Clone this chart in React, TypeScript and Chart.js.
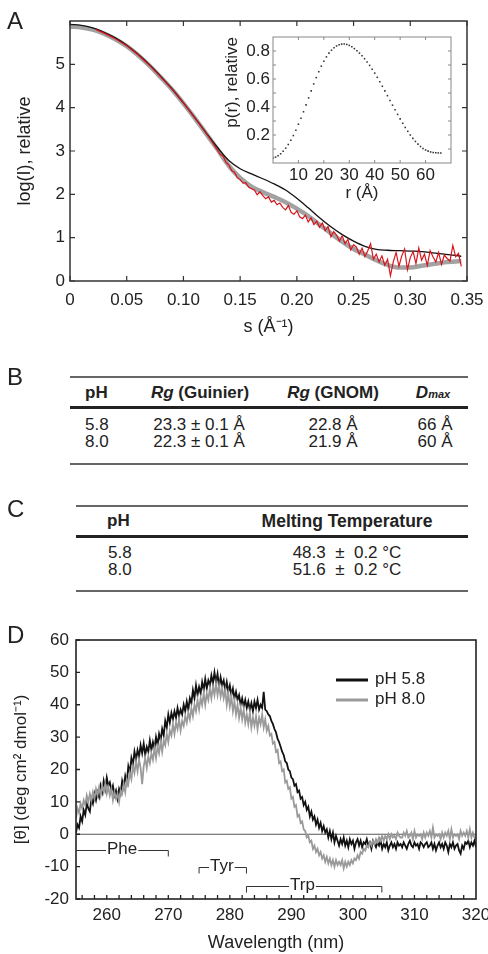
import React, { useEffect, useRef } from 'react';
import { Chart, registerables } from 'chart.js';

Chart.register(...registerables);

const FONT = "'Liberation Sans', Arial, Helvetica, sans-serif";
const INK = '#222';

// ---------------- Panel A : SAXS scattering curves ----------------
const sFit = [0, 0.01, 0.02, 0.03, 0.04, 0.05, 0.06, 0.07, 0.08, 0.09, 0.1, 0.11, 0.12, 0.13, 0.14, 0.15, 0.16, 0.17,
  0.18, 0.19, 0.2, 0.21, 0.22, 0.23, 0.24, 0.25, 0.26, 0.27, 0.28, 0.29, 0.3, 0.31, 0.32, 0.33, 0.34, 0.345];
const logIFitGray = [5.87, 5.85, 5.8, 5.71, 5.58, 5.42, 5.21, 4.97, 4.7, 4.42, 4.1, 3.76, 3.4, 3.04, 2.66, 2.38, 2.18, 2.05,
  1.94, 1.82, 1.67, 1.5, 1.3, 1.1, 0.91, 0.74, 0.61, 0.48, 0.37, 0.31, 0.31, 0.35, 0.39, 0.43, 0.45, 0.46];
const logIFitBlack = [5.92, 5.9, 5.84, 5.74, 5.61, 5.44, 5.23, 4.99, 4.72, 4.43, 4.11, 3.77, 3.42, 3.08, 2.78, 2.59, 2.47, 2.36,
  2.24, 2.1, 1.91, 1.69, 1.46, 1.25, 1.07, 0.92, 0.8, 0.73, 0.71, 0.7, 0.69, 0.68, 0.65, 0.62, 0.59, 0.57];
const sDataSmooth = [0.023, 0.03, 0.04, 0.05, 0.06, 0.07, 0.08, 0.09, 0.1, 0.11, 0.12, 0.125];
const logIDataSmooth = [5.8, 5.72, 5.59, 5.43, 5.22, 4.98, 4.71, 4.43, 4.11, 3.77, 3.41, 3.22];
const sDataNoisyStart = 0.13;
const sDataNoisyStep = 0.0025;
const logIDataNoisy = [
  3.02, 2.92, 2.88, 2.74, 2.68, 2.55, 2.51, 2.38, 2.34, 2.26, 2.27, 2.16, 2.13, 2.1, 1.99, 2.06,
  1.97, 1.9, 1.94, 1.82, 1.86, 1.76, 1.8, 1.7, 1.64, 1.74, 1.58, 1.54, 1.62, 1.48, 1.44, 1.52,
  1.36, 1.46, 1.3, 1.38, 1.24, 1.34, 1.16, 1.26, 1.02, 1.14, 1.06, 0.92, 1.04, 0.86, 0.96, 0.72,
  0.84, 0.78, 0.62, 0.76, 0.56, 0.7, 0.86, 0.5, 0.62, 0.44, 0.58, 0.36, 0.5, 0.12, 0.44, 0.66,
  0.34, 0.58, 0.74, 0.26, 0.54, 0.68, 0.4, 0.76, 0.48, 0.62, 0.36, 0.7, 0.56, 0.44, 0.66, 0.38,
  0.6, 0.52, 0.46, 0.82, 0.56, 0.64, 0.34];
const aXTicks = [0, 0.05, 0.1, 0.15, 0.2, 0.25, 0.3, 0.35];
const aYTicks = [0, 1, 2, 3, 4, 5];

// Inset : pair distance distribution
const rStart = 0;
const prValues = [0.035, 0.042, 0.052, 0.066, 0.084, 0.106, 0.132, 0.162, 0.196, 0.234, 0.277, 0.32, 0.366, 0.415, 0.465,
  0.515, 0.565, 0.61, 0.652, 0.692, 0.727, 0.758, 0.785, 0.806, 0.823, 0.836, 0.845, 0.849, 0.85, 0.847, 0.84, 0.83,
  0.817, 0.802, 0.785, 0.766, 0.745, 0.722, 0.697, 0.67, 0.642, 0.612, 0.58, 0.548, 0.515, 0.481, 0.447, 0.413, 0.38,
  0.347, 0.315, 0.284, 0.254, 0.226, 0.2, 0.176, 0.154, 0.135, 0.118, 0.104, 0.093, 0.085, 0.079, 0.075, 0.073, 0.072, 0.072];
const insetXTicks = [10, 20, 30, 40, 50, 60];
const insetYTicks = [0.2, 0.4, 0.6, 0.8];
const insetYMinor = [0.1, 0.2, 0.3, 0.4, 0.5, 0.6, 0.7, 0.8];

// ---------------- Tables B and C ----------------
const phLevels = ['5.8', '8.0'];
const rgGuinier = [23.3, 22.3];
const rgGuinierErr = [0.1, 0.1];
const rgGnom = [22.8, 21.9];
const dmax = [66, 60];
const meltTemp = [48.3, 51.6];
const meltTempErr = [0.2, 0.2];

// ---------------- Panel D : near-UV CD (255–320 nm, 0.25 nm steps) ----------------
const wlStart = 255;
const wlStep = 0.25;
const cdPh58 = [
  0.5, 3.0, 2.0, 5.5, 4.0, 7.5, 6.0, 9.5, 8.0, 7.0, 11.0, 9.5, 12.5, 10.5, 13.0, 11.5,
  15.0, 13.0, 16.5, 14.0, 17.5, 15.0, 16.0, 13.5, 15.0, 12.0, 13.5, 11.0, 14.0, 12.5, 16.5, 14.5,
  18.0, 16.0, 21.0, 19.0, 23.5, 21.5, 25.5, 23.0, 26.0, 24.0, 27.5, 25.0, 28.0, 24.5, 27.0, 25.5,
  29.0, 26.0, 28.5, 26.5, 30.0, 27.5, 31.0, 29.0, 32.5, 30.5, 35.0, 33.0, 37.0, 34.5, 37.5, 35.5,
  38.0, 36.0, 39.0, 36.5, 38.5, 37.0, 40.0, 38.0, 41.0, 38.5, 42.0, 40.5, 44.5, 42.0, 46.0, 43.0,
  45.5, 43.5, 47.0, 44.5, 48.0, 45.0, 47.5, 46.0, 49.0, 46.5, 50.0, 47.0, 49.5, 45.5, 48.5, 46.0,
  47.5, 44.5, 47.0, 44.0, 46.0, 43.0, 45.0, 42.0, 44.0, 41.5, 43.0, 40.0, 42.0, 39.5, 41.5, 39.0,
  41.0, 38.5, 40.5, 38.0, 41.0, 39.0, 41.5, 38.5, 40.0, 39.0, 44.0, 38.5, 38.0, 37.0, 36.5, 35.0,
  34.0, 32.5, 31.5, 29.5, 28.5, 27.0, 25.5, 24.5, 22.5, 22.0, 20.0, 19.5, 17.5, 17.0, 15.0, 15.5,
  13.0, 13.5, 11.0, 11.5, 9.0, 10.0, 7.5, 8.5, 5.5, 7.0, 4.5, 5.5, 3.0, 4.5, 2.0, 3.5,
  1.0, 2.5, 0.5, 1.5, -1.0, 1.0, -1.5, 0.5, -2.5, -0.5, -2.0, -3.5, -1.5, -3.0, -1.0, -3.5,
  -2.0, -4.0, -1.5, -3.0, -2.0, -4.5, -2.5, -1.5, -3.5, -2.0, -4.0, -2.5, -3.0, -1.5, -3.5, -2.5,
  -4.5, -2.0, -3.0, -4.0, -2.5, -3.5, -2.0, -4.5, -3.0, -4.0, -2.5, -5.0, -3.5, -2.5, -4.0, -3.0,
  -4.5, -2.5, -3.5, -3.0, -4.0, -2.5, -3.5, -4.5, -3.0, -2.0, -3.5, -4.0, -2.5, -3.5, -3.0, -4.5,
  -2.5, -3.0, -4.0, -3.0, -2.5, -4.0, -3.5, -2.5, -4.5, -3.0, -5.0, -3.5, -2.5, -4.0, -3.0, -4.5,
  -2.5, -3.5, -5.5, -3.0, -4.0, -2.5, -4.5, -3.5, -3.0, -5.0, -6.0, -3.5, -4.5, -2.5, -3.0, -2.0,
  -4.0, -2.5, -3.5, -2.0, -4.0];
const cdPh80 = [
  5.0, 8.0, 6.5, 9.5, 8.0, 10.5, 9.0, 12.0, 10.0, 12.5, 10.5, 13.0, 11.0, 14.0, 12.0, 14.5,
  12.0, 15.0, 13.0, 15.5, 12.5, 14.5, 12.0, 14.0, 10.5, 13.0, 11.0, 12.5, 10.0, 13.5, 12.5, 15.5,
  13.0, 17.0, 15.5, 19.0, 17.0, 21.0, 19.0, 22.5, 19.5, 23.0, 20.5, 15.5, 21.0, 23.5, 20.5, 24.0,
  22.0, 25.0, 23.0, 26.5, 23.5, 27.0, 25.0, 28.5, 25.5, 29.0, 27.5, 31.0, 28.5, 32.0, 30.5, 34.0,
  31.0, 34.5, 32.5, 35.5, 32.0, 35.0, 33.5, 36.5, 34.5, 37.5, 35.5, 39.0, 36.5, 40.0, 38.0, 41.5,
  38.5, 42.0, 40.0, 43.5, 40.0, 43.5, 41.5, 45.0, 42.0, 45.5, 43.0, 46.5, 43.0, 46.0, 42.5, 45.0,
  42.0, 44.5, 40.0, 43.5, 39.5, 42.5, 38.0, 41.0, 37.0, 40.0, 36.0, 39.0, 35.5, 38.5, 34.5, 37.0,
  34.0, 37.5, 33.0, 36.0, 33.5, 36.5, 32.5, 36.0, 34.0, 37.0, 33.0, 35.5, 32.0, 33.5, 30.5, 31.0,
  28.0, 28.5, 25.5, 26.0, 22.0, 22.5, 19.5, 20.0, 16.0, 16.5, 14.0, 14.5, 11.0, 11.5, 8.5, 9.0,
  5.5, 6.0, 3.5, 4.0, 1.5, 1.0, -1.0, -0.5, -2.5, -2.0, -4.5, -3.5, -5.5, -4.5, -6.5, -5.5,
  -7.5, -6.5, -8.5, -7.0, -9.0, -7.5, -9.5, -8.0, -10.0, -8.0, -9.5, -8.5, -9.5, -8.0, -10.5, -8.5,
  -10.0, -8.5, -9.5, -8.0, -9.0, -7.5, -8.0, -6.5, -7.5, -5.5, -6.0, -4.5, -5.0, -3.5, -4.0, -2.5,
  -3.5, -2.0, -3.0, -1.5, -2.5, -1.0, -2.0, -0.5, -2.0, -0.5, -1.5, 0.0, -1.5, 0.0, -1.0, -0.5,
  -1.5, 0.5, -0.5, -1.0, -1.0, 0.5, -0.5, 1.0, -1.0, -0.5, 0.5, -1.5, 1.0, -1.0, 0.0, -0.5,
  0.0, -1.5, 0.5, -1.0, 0.5, -0.5, 1.0, -1.0, 2.0, -1.0, 0.0, -0.5, 0.0, -1.5, 0.5, -1.0,
  0.5, -0.5, 1.0, -1.5, 1.5, -1.0, 0.0, -0.5, 0.0, -1.5, 1.0, -0.5, 0.5, -0.5, 1.0, -1.0,
  1.5, -1.0, 0.5, -1.0, -1.5];
const dXTicks = [260, 270, 280, 290, 300, 310, 320];
const dXMinor = [256, 258, 260, 262, 264, 266, 268, 270, 272, 274, 276, 278, 280, 282, 284, 286, 288, 290, 292, 294,
  296, 298, 300, 302, 304, 306, 308, 310, 312, 314, 316, 318];
const dYTicks = [-20, -10, 0, 10, 20, 30, 40, 50, 60];
const bracketLabels = ['Phe', 'Tyr', 'Trp'];
const bracketFrom = [255, 275, 282.7];
const bracketTo = [270, 282.7, 304.7];
const bracketLevel = [-5, -10.2, -16];
const bracketTextAt = [262.5, 278.7, 291.8];
const bracketLeftTick = [false, true, true];

// ---------------- plugins ----------------
const frameTicksPlugin = {
  id: 'frameTicks',
  afterDatasetsDraw(chart: any, _a: any, o: any) {
    const { ctx, chartArea: a } = chart;
    const xs = chart.scales.x;
    const ys = chart.scales.y;
    ctx.save();
    ctx.strokeStyle = o.color;
    ctx.lineWidth = o.frameWidth;
    ctx.strokeRect(a.left, a.top, a.right - a.left, a.bottom - a.top);
    ctx.lineWidth = o.tickWidth;
    ctx.beginPath();
    const L = o.len;
    (o.bottom || []).forEach((v: number) => { const p = xs.getPixelForValue(v); ctx.moveTo(p, a.bottom); ctx.lineTo(p, a.bottom - L); });
    (o.top || []).forEach((v: number) => { const p = xs.getPixelForValue(v); ctx.moveTo(p, a.top); ctx.lineTo(p, a.top + L); });
    (o.left || []).forEach((v: number) => { const p = ys.getPixelForValue(v); ctx.moveTo(a.left, p); ctx.lineTo(a.left + L, p); });
    (o.right || []).forEach((v: number) => { const p = ys.getPixelForValue(v); ctx.moveTo(a.right, p); ctx.lineTo(a.right - L, p); });
    ctx.stroke();
    ctx.restore();
  },
};

const cdMarksPlugin = {
  id: 'cdMarks',
  beforeDatasetsDraw(chart: any) {
    const { ctx, chartArea: a } = chart;
    const y0 = chart.scales.y.getPixelForValue(0);
    ctx.save();
    ctx.strokeStyle = '#555';
    ctx.lineWidth = 1.2;
    ctx.beginPath();
    ctx.moveTo(a.left, y0);
    ctx.lineTo(a.right, y0);
    ctx.stroke();
    ctx.restore();
  },
  afterDatasetsDraw(chart: any) {
    const { ctx, chartArea: a } = chart;
    const xs = chart.scales.x;
    const ys = chart.scales.y;
    ctx.save();
    ctx.font = `17px ${FONT}`;
    ctx.fillStyle = INK;
    ctx.strokeStyle = '#333';
    ctx.lineWidth = 1;
    ctx.textBaseline = 'middle';
    ctx.textAlign = 'center';
    bracketLabels.forEach((lab, i) => {
      const x0 = xs.getPixelForValue(bracketFrom[i]);
      const x1 = xs.getPixelForValue(bracketTo[i]);
      const xc = xs.getPixelForValue(bracketTextAt[i]);
      const y = Math.round(ys.getPixelForValue(bracketLevel[i])) + 0.5;
      const w = ctx.measureText(lab).width;
      ctx.beginPath();
      ctx.moveTo(x0, y);
      ctx.lineTo(xc - w / 2 - 1, y);
      ctx.moveTo(xc + w / 2 + 1, y);
      ctx.lineTo(x1, y);
      ctx.moveTo(x1, y);
      ctx.lineTo(x1, y + 6);
      if (bracketLeftTick[i]) {
        ctx.moveTo(x0, y);
        ctx.lineTo(x0, y + 6);
      }
      ctx.stroke();
      ctx.fillText(lab, xc, y - 1);
    });
    // legend
    const rows = [40, 60];
    chart.data.datasets.forEach((ds: any, i: number) => {
      const y = a.top + rows[i];
      ctx.strokeStyle = ds.borderColor;
      ctx.lineWidth = 3;
      ctx.beginPath();
      ctx.moveTo(a.left + 260, y);
      ctx.lineTo(a.left + 292, y);
      ctx.stroke();
      ctx.textAlign = 'left';
      ctx.fillStyle = INK;
      ctx.fillText(ds.label, a.left + 299, y - 1);
    });
    ctx.restore();
  },
};

const tickFont = { family: FONT, size: 17 };
const titleFont = { family: FONT, size: 18 };

function fixedTicks(values: number[]) {
  return (s: any) => { s.ticks = values.map((v) => ({ value: v })); };
}

export default function App() {
  const refA = useRef<HTMLCanvasElement>(null);
  const refInset = useRef<HTMLCanvasElement>(null);
  const refD = useRef<HTMLCanvasElement>(null);

  useEffect(() => {
    const fitGrayPts = sFit.map((s, i) => ({ x: s, y: logIFitGray[i] }));
    const fitBlackPts = sFit.map((s, i) => ({ x: s, y: logIFitBlack[i] }));
    const dataPts = sDataSmooth.map((s, i) => ({ x: s, y: logIDataSmooth[i] }))
      .concat(logIDataNoisy.map((v, i) => ({ x: sDataNoisyStart + i * sDataNoisyStep, y: v })));

    const chartA = new Chart(refA.current!, {
      type: 'line',
      data: {
        datasets: [
          { label: 'data', data: dataPts, borderColor: '#d8141c', borderWidth: 1.2, pointRadius: 0, tension: 0, order: 0 },
          { label: 'model 2', data: fitBlackPts, borderColor: '#111', borderWidth: 1.3, pointRadius: 0, cubicInterpolationMode: 'monotone', order: 1 },
          { label: 'model 1', data: fitGrayPts, borderColor: '#a2a2a2', borderWidth: 4.5, pointRadius: 0, cubicInterpolationMode: 'monotone', order: 2 },
        ],
      },
      options: {
        animation: false,
        responsive: false,
        events: [],
        layout: { padding: { top: 21, right: 21, left: 0, bottom: 0 } },
        plugins: {
          legend: { display: false },
          tooltip: { enabled: false },
          frameTicks: { color: '#333', frameWidth: 1.5, tickWidth: 1.2, len: 5, bottom: aXTicks, top: aXTicks, left: aYTicks, right: aYTicks },
        } as any,
        scales: {
          x: {
            type: 'linear', min: 0, max: 0.35,
            grid: { display: false, drawTicks: false }, border: { display: false },
            afterBuildTicks: fixedTicks(aXTicks),
            afterFit: (s: any) => { s.height = 59; s.paddingLeft = 0; s.paddingRight = 0; },
            ticks: { font: tickFont, color: INK, padding: 9, maxRotation: 0, autoSkip: false,
              callback: (v: any) => (v === 0 ? '0' : Number(v).toFixed(2)) },
            title: { display: true, text: 's (Å⁻¹)', font: titleFont, color: INK, padding: { top: 0, bottom: 2 } },
          },
          y: {
            type: 'linear', min: 0, max: 6,
            grid: { display: false, drawTicks: false }, border: { display: false },
            afterBuildTicks: fixedTicks(aYTicks),
            afterFit: (s: any) => { s.width = 70; s.paddingTop = 0; s.paddingBottom = 0; },
            ticks: { font: tickFont, color: INK, padding: 5, autoSkip: false },
            title: { display: true, text: 'log(I), relative', font: titleFont, color: INK, padding: { top: 14, bottom: 0 } },
          },
        },
      },
      plugins: [frameTicksPlugin],
    } as any);

    const insetPts = prValues.map((v, i) => ({ x: rStart + i, y: v }));
    const chartInset = new Chart(refInset.current!, {
      type: 'scatter',
      data: {
        datasets: [{ label: 'p(r)', data: insetPts, pointRadius: 1.1, pointStyle: 'rect', backgroundColor: '#333', borderWidth: 0, showLine: false }],
      },
      options: {
        animation: false,
        responsive: false,
        events: [],
        layout: { padding: { top: 9, right: 9, left: 0, bottom: 0 } },
        plugins: {
          legend: { display: false },
          tooltip: { enabled: false },
          frameTicks: { color: '#888', frameWidth: 1, tickWidth: 1, len: 3, bottom: insetXTicks, top: insetXTicks, left: insetYMinor, right: insetYMinor },
        } as any,
        scales: {
          x: {
            type: 'linear', min: 0, max: 70,
            grid: { display: false, drawTicks: false }, border: { display: false },
            afterBuildTicks: fixedTicks(insetXTicks),
            afterFit: (s: any) => { s.height = 45; s.paddingLeft = 0; s.paddingRight = 0; },
            ticks: { font: tickFont, color: INK, padding: 2, maxRotation: 0, autoSkip: false },
            title: { display: true, text: 'r (Å)', font: { family: FONT, size: 17 }, color: INK, padding: { top: 0, bottom: 4 } },
          },
          y: {
            type: 'linear', min: 0, max: 0.9,
            grid: { display: false, drawTicks: false }, border: { display: false },
            afterBuildTicks: fixedTicks(insetYTicks),
            afterFit: (s: any) => { s.width = 58; s.paddingTop = 0; s.paddingBottom = 0; },
            ticks: { font: tickFont, color: INK, padding: 3, autoSkip: false, callback: (v: any) => Number(v).toFixed(1) },
            title: { display: true, text: 'p(r), relative', align: 'end', font: { family: FONT, size: 17 }, color: INK, padding: { top: 7, bottom: 0 } },
          },
        },
      },
      plugins: [frameTicksPlugin],
    } as any);

    const ph58Pts = cdPh58.map((v, i) => ({ x: wlStart + i * wlStep, y: v }));
    const ph80Pts = cdPh80.map((v, i) => ({ x: wlStart + i * wlStep, y: v }));
    const chartD = new Chart(refD.current!, {
      type: 'line',
      data: {
        datasets: [
          { label: 'pH 5.8', data: ph58Pts, borderColor: '#111', borderWidth: 1.8, pointRadius: 0, tension: 0, order: 1 },
          { label: 'pH 8.0', data: ph80Pts, borderColor: '#9a9a9a', borderWidth: 1.8, pointRadius: 0, tension: 0, order: 0 },
        ],
      },
      options: {
        animation: false,
        responsive: false,
        events: [],
        layout: { padding: { top: 40, right: 12, left: 0, bottom: 0 } },
        plugins: {
          legend: { display: false },
          tooltip: { enabled: false },
          frameTicks: { color: '#222', frameWidth: 1.6, tickWidth: 1.3, len: 4, bottom: dXMinor, left: dYTicks },
        } as any,
        scales: {
          x: {
            type: 'linear', min: 255, max: 320,
            grid: { display: false, drawTicks: false }, border: { display: false },
            afterBuildTicks: fixedTicks(dXTicks),
            afterFit: (s: any) => { s.height = 55; s.paddingLeft = 0; s.paddingRight = 0; },
            ticks: { font: tickFont, color: INK, padding: 6, maxRotation: 0, autoSkip: false },
            title: { display: true, text: 'Wavelength (nm)', font: titleFont, color: INK, padding: { top: 0, bottom: 0 } },
          },
          y: {
            type: 'linear', min: -20, max: 60,
            grid: { display: false, drawTicks: false }, border: { display: false },
            afterBuildTicks: fixedTicks(dYTicks),
            afterFit: (s: any) => { s.width = 76; s.paddingTop = 0; s.paddingBottom = 0; },
            ticks: { font: tickFont, color: INK, padding: 7, autoSkip: false },
            title: { display: true, text: '[θ] (deg cm² dmol⁻¹)', font: { family: FONT, size: 17 }, color: INK, padding: { top: 11, bottom: 0 } },
          },
        },
      },
      plugins: [frameTicksPlugin, cdMarksPlugin],
    } as any);

    return () => {
      chartA.destroy();
      chartInset.destroy();
      chartD.destroy();
    };
  }, []);

  const base: React.CSSProperties = { position: 'absolute', fontFamily: FONT, color: INK, whiteSpace: 'pre' };
  const centered = (cx: number, cy: number, content: React.ReactNode, extra: React.CSSProperties = {}) => (
    <div style={{ ...base, left: cx - 120, width: 240, top: cy - 11, height: 22, lineHeight: '22px', textAlign: 'center', fontSize: 17, ...extra }}>{content}</div>
  );
  const leftText = (x: number, cy: number, content: React.ReactNode, extra: React.CSSProperties = {}) => (
    <div style={{ ...base, left: x, top: cy - 11, height: 22, lineHeight: '22px', fontSize: 17, ...extra }}>{content}</div>
  );
  const rule = (x: number, y: number, w: number, h: number, c: string) => (
    <div style={{ position: 'absolute', left: x, top: y, width: w, height: h, background: c }} />
  );
  const panelLabel = (t: string, cy: number) => (
    <div style={{ ...base, left: 7, top: cy - 14, height: 28, lineHeight: '28px', fontSize: 24 }}>{t}</div>
  );

  return (
    <div style={{ position: 'absolute', left: 0, top: 0, width: 488, height: 954, background: '#fff', overflow: 'hidden' }}>
      <canvas ref={refA} width={488} height={340} style={{ position: 'absolute', left: 0, top: 0 }} />
      <canvas ref={refInset} width={245} height={180} style={{ position: 'absolute', left: 215, top: 28 }} />
      <canvas ref={refD} width={488} height={354} style={{ position: 'absolute', left: 0, top: 600 }} />

      {panelLabel('A', 21)}
      {panelLabel('B', 377)}
      {panelLabel('C', 509)}
      {panelLabel('D', 635)}

      {/* Table B */}
      {rule(70, 376, 398, 2, '#666')}
      {leftText(85, 393, 'pH', { fontWeight: 'bold' })}
      {centered(200, 393, <><i>Rg</i> (Guinier)</>, { fontWeight: 'bold' })}
      {centered(333, 393, <><i>Rg</i> (GNOM)</>, { fontWeight: 'bold' })}
      {centered(433, 393, <><i>D</i><i style={{ fontSize: 11 }}>max</i></>, { fontWeight: 'bold' })}
      {rule(70, 406, 398, 3, '#222')}
      {phLevels.map((ph, i) => (
        <React.Fragment key={'b' + ph}>
          {leftText(85, 425 + i * 17, ph)}
          {centered(199, 425 + i * 17, `${rgGuinier[i].toFixed(1)} ± ${rgGuinierErr[i].toFixed(1)} Å`)}
          {centered(333, 425 + i * 17, `${rgGnom[i].toFixed(1)} Å`)}
          {centered(435, 425 + i * 17, `${dmax[i]} Å`)}
        </React.Fragment>
      ))}
      {rule(70, 463, 398, 2, '#666')}

      {/* Table C */}
      {rule(76, 505, 392, 2, '#666')}
      {leftText(107, 521, 'pH', { fontWeight: 'bold' })}
      {centered(347, 521, 'Melting Temperature', { fontWeight: 'bold', fontSize: 17.5 })}
      {rule(76, 535, 392, 3, '#222')}
      {phLevels.map((ph, i) => (
        <React.Fragment key={'c' + ph}>
          {leftText(108, 553 + i * 17, ph)}
          {centered(347, 553 + i * 17, `${meltTemp[i].toFixed(1)}  ±  ${meltTempErr[i].toFixed(1)} °C`)}
        </React.Fragment>
      ))}
      {rule(76, 590, 392, 2, '#666')}
    </div>
  );
}
